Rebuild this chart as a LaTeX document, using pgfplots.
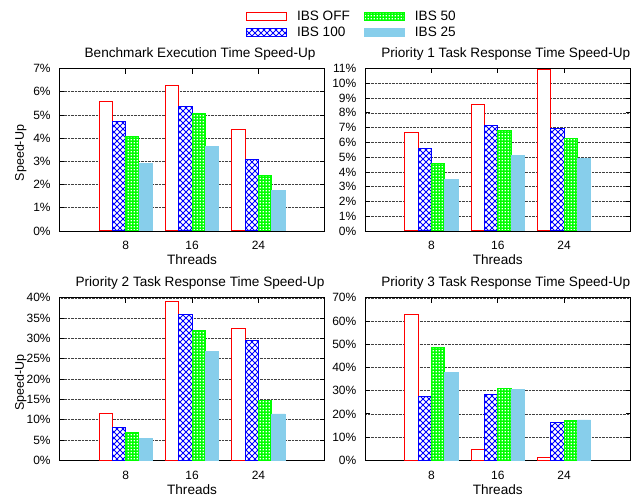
\documentclass[border=0pt]{standalone}
\usepackage{fontspec}
\setmainfont{Liberation Sans}
\usepackage{pgfplots}
\usepackage{pgfplotstable}
\pgfplotsset{compat=1.18}
\usetikzlibrary{patterns}

\pgfdeclarepatternformonly{diagcross}{\pgfqpoint{-1pt}{-1pt}}{\pgfqpoint{7pt}{7pt}}{\pgfqpoint{6pt}{6pt}}{%
  \pgfsetlinewidth{0.75pt}%
  \pgfpathmoveto{\pgfqpoint{0pt}{0pt}}\pgfpathlineto{\pgfqpoint{6pt}{6pt}}%
  \pgfpathmoveto{\pgfqpoint{0pt}{6pt}}\pgfpathlineto{\pgfqpoint{6pt}{0pt}}%
  \pgfusepath{stroke}}
\pgfdeclarepatternformonly{sqdots}{\pgfqpoint{0pt}{0pt}}{\pgfqpoint{2.7pt}{2.7pt}}{\pgfqpoint{2.7pt}{2.7pt}}{%
  \pgfpathrectangle{\pgfqpoint{0.75pt}{0.75pt}}{\pgfqpoint{1.2pt}{1.2pt}}%
  \pgfusepath{fill}}

\definecolor{skyb}{RGB}{135,206,235}

\pgfplotstableread{
x off i100 i50 i25
1 5.60 4.72 4.07 2.90
2 6.28 5.37 5.08 3.66
3 4.39 3.10 2.37 1.76
}\tA
\pgfplotstableread{
x off i100 i50 i25
1 6.67 5.58 4.56 3.49
2 8.54 7.13 6.81 5.13
3 10.96 6.95 6.26 4.92
}\tB
\pgfplotstableread{
x off i100 i50 i25
1 11.5 8.15 6.9 5.4
2 39.2 35.8 31.9 26.9
3 32.5 29.4 14.6 11.4
}\tC
\pgfplotstableread{
x off i100 i50 i25
1 62.8 27.4 48.4 37.9
2 4.5 28.5 30.8 30.7
3 1.3 16.4 17.0 17.4
}\tD

\pgfplotsset{
  sp/.style={
    scale only axis, width=265.5pt, height=162.5pt,
    xmin=0, xmax=4, ymin=0,
    xtick={1,2,3}, xticklabels={8,16,24},
    ybar, bar width=0.2,
    ymajorgrids, grid style={black!75, densely dotted, line width=0.6pt},
    axis line style={black, line width=0.9pt},
    tick style={black, line width=0.8pt}, major tick length=5pt, tick align=inside,
    /pgf/number format/assume math mode=true,
    ticklabel style={font=\fontsize{12}{14}\selectfont},
    yticklabel={\pgfmathprintnumber{\tick}\%},
    yticklabel style={anchor=east, inner sep=0pt, xshift=-8.5pt},
    xticklabel style={anchor=base, inner sep=0pt, yshift=-18.7pt},
    title style={at={(0.5,1)}, anchor=base, inner sep=0pt, yshift=5pt, xshift=8pt, font=\fontsize{13.6}{16}\selectfont},
    xlabel={Threads},
    xlabel style={at={(axis description cs:0.5,0)}, anchor=base, inner sep=0pt, yshift=-34pt, font=\fontsize{13.6}{16}\selectfont},
    ylabel style={at={(axis description cs:-0.133,0.48)}, anchor=base, inner sep=0pt, font=\fontsize{12.5}{15}\selectfont},
    legend image code/.code={\draw[#1] (0pt,-4pt) rectangle (40pt,4pt);},
  },
  soff/.style={draw=red, fill=white, line width=1pt, bar shift=-0.3},
  s100/.style={draw=blue, fill=white, line width=1pt, postaction={pattern=diagcross, pattern color=blue}, bar shift=-0.1},
  s50/.style={draw=green, fill=green, line width=1pt, postaction={pattern=sqdots, pattern color=white}, bar shift=0.1},
  s25/.style={draw=skyb, fill=skyb, line width=0.5pt, bar shift=0.3},
}

\begin{document}
\begin{tikzpicture}
\path[use as bounding box] (0pt,0pt) rectangle (636pt,498pt);

\begin{axis}[sp, at={(59.3pt,267pt)}, anchor=south west,
  ymax=7, ytick={0,1,...,7}, ylabel={Speed-Up},
  title={Benchmark Execution Time Speed-Up},
  legend columns=2, transpose legend,
  legend style={at={(axis description cs:1.102,1.271)}, anchor=center, draw=none, fill=none,
    font=\fontsize{13.6}{16}\selectfont, row sep=1pt,
    /tikz/every odd column/.append style={column sep=8pt},
    /tikz/every even column/.append style={column sep=12pt}},
  legend cell align=left]
\addplot[soff] table[x=x,y=off]{\tA};
\addplot[s100] table[x=x,y=i100]{\tA};
\addplot[s50] table[x=x,y=i50]{\tA};
\addplot[s25] table[x=x,y=i25]{\tA};
\legend{IBS OFF, IBS 100, IBS 50, IBS 25}
\end{axis}

\begin{axis}[sp, at={(365pt,267pt)}, anchor=south west,
  ymax=11, ytick={0,1,...,11},
  title={Priority 1 Task Response Time Speed-Up}]
\addplot[soff] table[x=x,y=off]{\tB};
\addplot[s100] table[x=x,y=i100]{\tB};
\addplot[s50] table[x=x,y=i50]{\tB};
\addplot[s25] table[x=x,y=i25]{\tB};
\end{axis}

\begin{axis}[sp, at={(59.3pt,37.7pt)}, anchor=south west,
  ymax=40, ytick={0,5,...,40}, ylabel={Speed-Up},
  title={Priority 2 Task Response Time Speed-Up}]
\addplot[soff] table[x=x,y=off]{\tC};
\addplot[s100] table[x=x,y=i100]{\tC};
\addplot[s50] table[x=x,y=i50]{\tC};
\addplot[s25] table[x=x,y=i25]{\tC};
\end{axis}

\begin{axis}[sp, at={(365pt,37.7pt)}, anchor=south west,
  ymax=70, ytick={0,10,...,70},
  title={Priority 3 Task Response Time Speed-Up}]
\addplot[soff] table[x=x,y=off]{\tD};
\addplot[s100] table[x=x,y=i100]{\tD};
\addplot[s50] table[x=x,y=i50]{\tD};
\addplot[s25] table[x=x,y=i25]{\tD};
\end{axis}
\end{tikzpicture}
\end{document}
